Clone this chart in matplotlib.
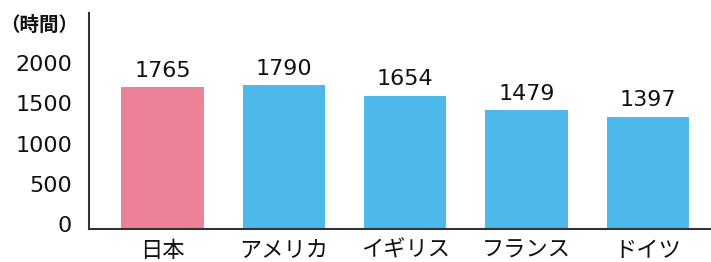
import matplotlib
matplotlib.use("Agg")
import matplotlib.pyplot as plt
import matplotlib.transforms as mtransforms

plt.rcParams['font.family'] = ['DejaVu Sans', 'Noto Sans CJK JP']

categories = ["日本", "アメリカ", "イギリス", "フランス", "ドイツ"]
hours = [1765, 1790, 1654, 1479, 1397]
colors = ["#EC8197", "#4DB9EA", "#4DB9EA", "#4DB9EA", "#4DB9EA"]
yticks = [0, 500, 1000, 1500, 2000]
unit_label = "（時間）"

fig = plt.figure(figsize=(7.11, 2.62), dpi=100)
ax = fig.add_axes([0.125, 0.126, 0.875, 0.824])
x = list(range(len(categories)))
ax.bar(x, hours, width=0.68, color=colors)
for xi, v in zip(x, hours):
    ax.text(xi, v + 80, str(v), ha='center', va='bottom', fontsize=16,
            color='#111111', family='DejaVu Sans')

ax.set_xlim(-0.606, 4.52)
ax.set_ylim(0, 2683)
ax.set_xticks(x)
ax.set_xticklabels(categories, fontsize=16, color='#111111',
                   family=['Noto Sans CJK JP', 'DejaVu Sans'])
ax.set_yticks(yticks)
ax.set_yticklabels([str(t) for t in yticks], fontsize=16, color='#111111')
ax.tick_params(axis='both', length=0)
ax.tick_params(axis='y', pad=12)
ax.tick_params(axis='x', pad=7)
off = mtransforms.ScaledTranslation(0, 5/100, fig.dpi_scale_trans)
for lab in ax.get_yticklabels():
    lab.set_transform(lab.get_transform() + off)

for s in ['top', 'right']:
    ax.spines[s].set_visible(False)
for s in ['left', 'bottom']:
    ax.spines[s].set_color('#333333')
    ax.spines[s].set_linewidth(1.5)

fig.text(0.0, 1 - 25/262, unit_label, ha='left', va='center', fontsize=14,
         color='#111111', fontweight='bold', family=['Noto Sans CJK JP', 'DejaVu Sans'])

fig.savefig("out.png", dpi=100)
